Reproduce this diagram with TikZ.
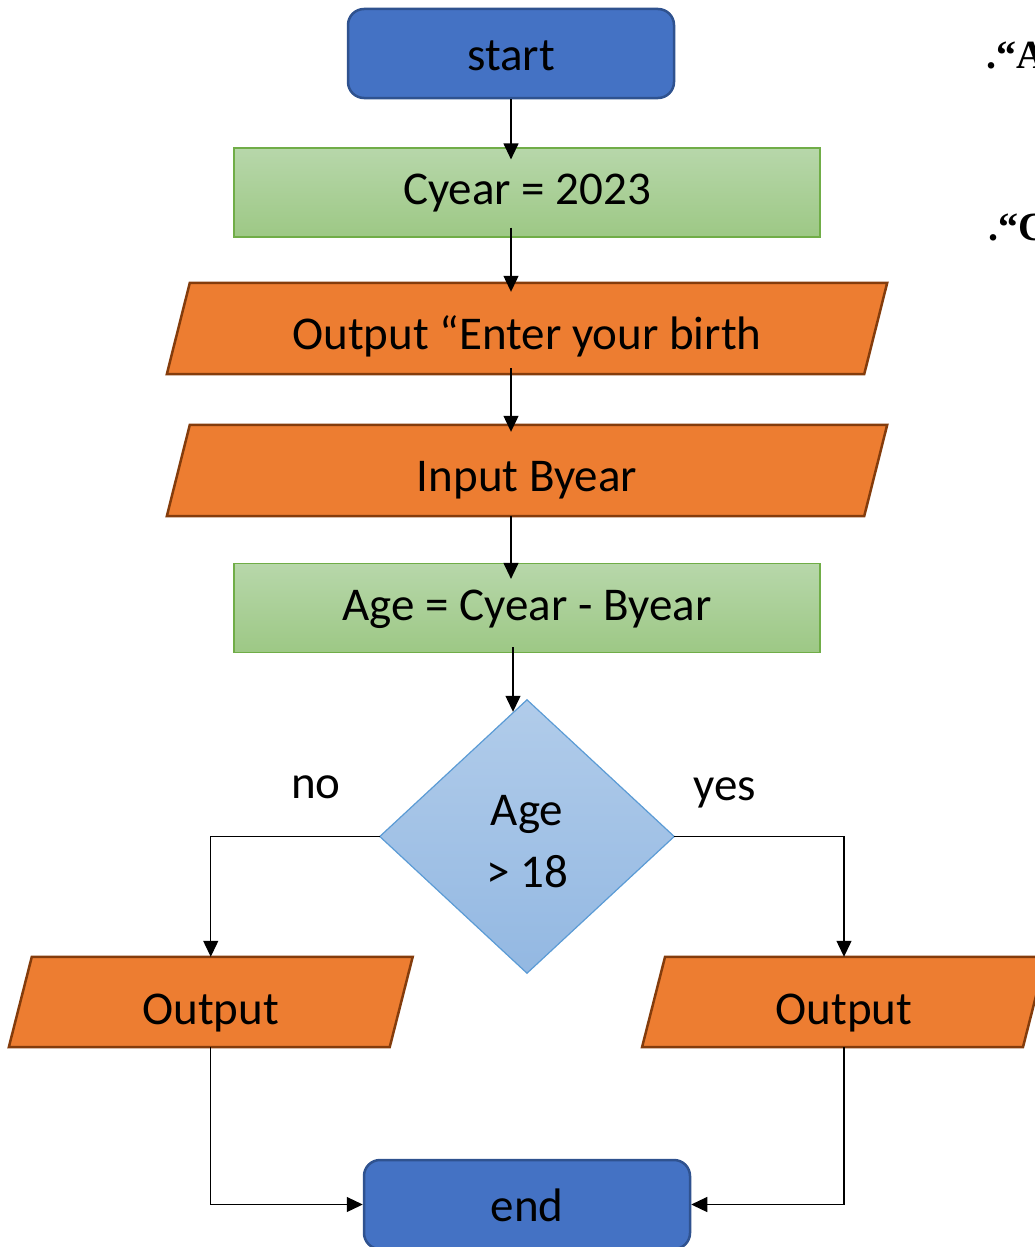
\documentclass[tikz,border=0pt]{standalone}
\usepackage{fontspec}
\setmainfont{Carlito}
\newfontfamily\notefont{Liberation Serif}
\usetikzlibrary{arrows.meta,calc}
\pgfdeclarelayer{background}
\pgfsetlayers{background,main}

\definecolor{termfill}{HTML}{4472C4}
\definecolor{termline}{HTML}{2F528F}
\definecolor{proctop}{HTML}{B7D7AA}
\definecolor{procbot}{HTML}{9DC885}
\definecolor{procline}{HTML}{70AD47}
\definecolor{iofill}{HTML}{ED7D31}
\definecolor{ioline}{HTML}{843C0C}
\definecolor{dectop}{HTML}{B1CCEA}
\definecolor{decbot}{HTML}{93B8E2}
\definecolor{decline}{HTML}{5B9BD5}

\tikzset{
  base/.style={font=\fontsize{47}{62}\selectfont, inner sep=0pt, text=black},
  terminal/.style={base, rectangle, rounded corners=16pt, draw=termline, fill=termfill,
    line width=2.5pt, minimum width=326pt, minimum height=89pt,
    text height=34pt, text depth=0pt},
  process/.style={base, rectangle, draw=procline, line width=1.2pt,
    top color=proctop, bottom color=procbot, minimum width=586pt, minimum height=89pt,
    text height=24pt, text depth=0pt},
  io/.style={base, rectangle, minimum width=697pt, minimum height=91pt,
    text height=42pt, text depth=0pt},
  iosmall/.style={io, minimum width=380.5pt, minimum height=90pt, text height=44pt},
  iopath/.style={fill=iofill, draw=ioline, line width=2.5pt, line join=miter},
  decision/.style={rectangle, inner sep=0pt, minimum width=294pt, minimum height=273pt},
  dectext/.style={base, align=center},
  decpath/.style={draw=decline, line width=1.2pt, top color=dectop, bottom color=decbot},
  conn/.style={line width=1.2pt, draw=black, -{Triangle[length=16pt,width=15pt]}},
  lbl/.style={base, anchor=base},
  note/.style={anchor=base west, inner sep=0pt, font=\notefont\bfseries\fontsize{40}{42}\selectfont}
}

% parallelogram behind an input/output node
\newcommand\ioshape[2]{%
  \begin{pgfonlayer}{background}
    \path[iopath] ($(#1.south west)+(-#2,0)$) -- ($(#1.south east)+(-#2,0)$)
      -- ($(#1.north east)+(#2,0)$) -- ($(#1.north west)+(#2,0)$) -- cycle;
  \end{pgfonlayer}}

\begin{document}
\begin{tikzpicture}[x=1pt,y=-1pt]
  \clip (0,0) rectangle (1034,1247);

  % flow steps
  \node[terminal] (start) at (511,53.5) {start};
  \node[process]  (cyear) at (527,192.5) {Cyear = 2023};
  \node[io]       (out1)  at (527,328.5) {Output “Enter your birth};
  \node[io]       (inp)   at (527,470.5) {Input Byear};
  \node[process]  (age)   at (527,608) {Age = Cyear - Byear};
  \node[decision] (dec)   at (527,836.5) {};
  \node[dectext]  (dectxt) at (527,842) {Age\\> 18};
  \node[iosmall]  (outL)  at (210.75,1002) {Output};
  \node[iosmall]  (outR)  at (844,1002) {Output};
  \node[terminal] (end)   at (527,1204.5) {end};

  \ioshape{out1}{11.5}
  \ioshape{inp}{11.5}
  \ioshape{outL}{11.5}
  \ioshape{outR}{11.5}
  \begin{pgfonlayer}{background}
    \path[decpath] (dec.north) -- (dec.east) -- (dec.south) -- (dec.west) -- cycle;
  \end{pgfonlayer}

  % branch labels
  \node[lbl] (no)  at (316,798) {no};
  \node[lbl] (yes) at (725,800) {yes};

  % side notes
  \node[note] (noteA) at (986,68) {.“A};
  \node[note] (noteC) at (988,240) {.“C};

  % connectors
  \draw[conn] (start.south) -- ($(start.south |- cyear.north)+(0,12)$);
  \draw[conn] ($(start.south |- cyear.south)+(0,-10)$) -- ($(start.south |- out1.north)+(0,9)$);
  \draw[conn] ($(start.south |- out1.south)+(0,-6)$) -- ($(start.south |- inp.north)+(0,7)$);
  \draw[conn] (start.south |- inp.south) -- ($(start.south |- age.north)+(0,16)$);
  \draw[conn] ($(age.south)+(-14,-6)$) -- ($(age.south |- dec.north)+(-14,12)$);
  \draw[conn] (dec.west) -| (outL.north);
  \draw[conn] (dec.east) -| (outR.north);
  \draw[conn] (outL.south) |- (end.west);
  \draw[conn] (outR.south) |- (end.east);
\end{tikzpicture}
\end{document}
